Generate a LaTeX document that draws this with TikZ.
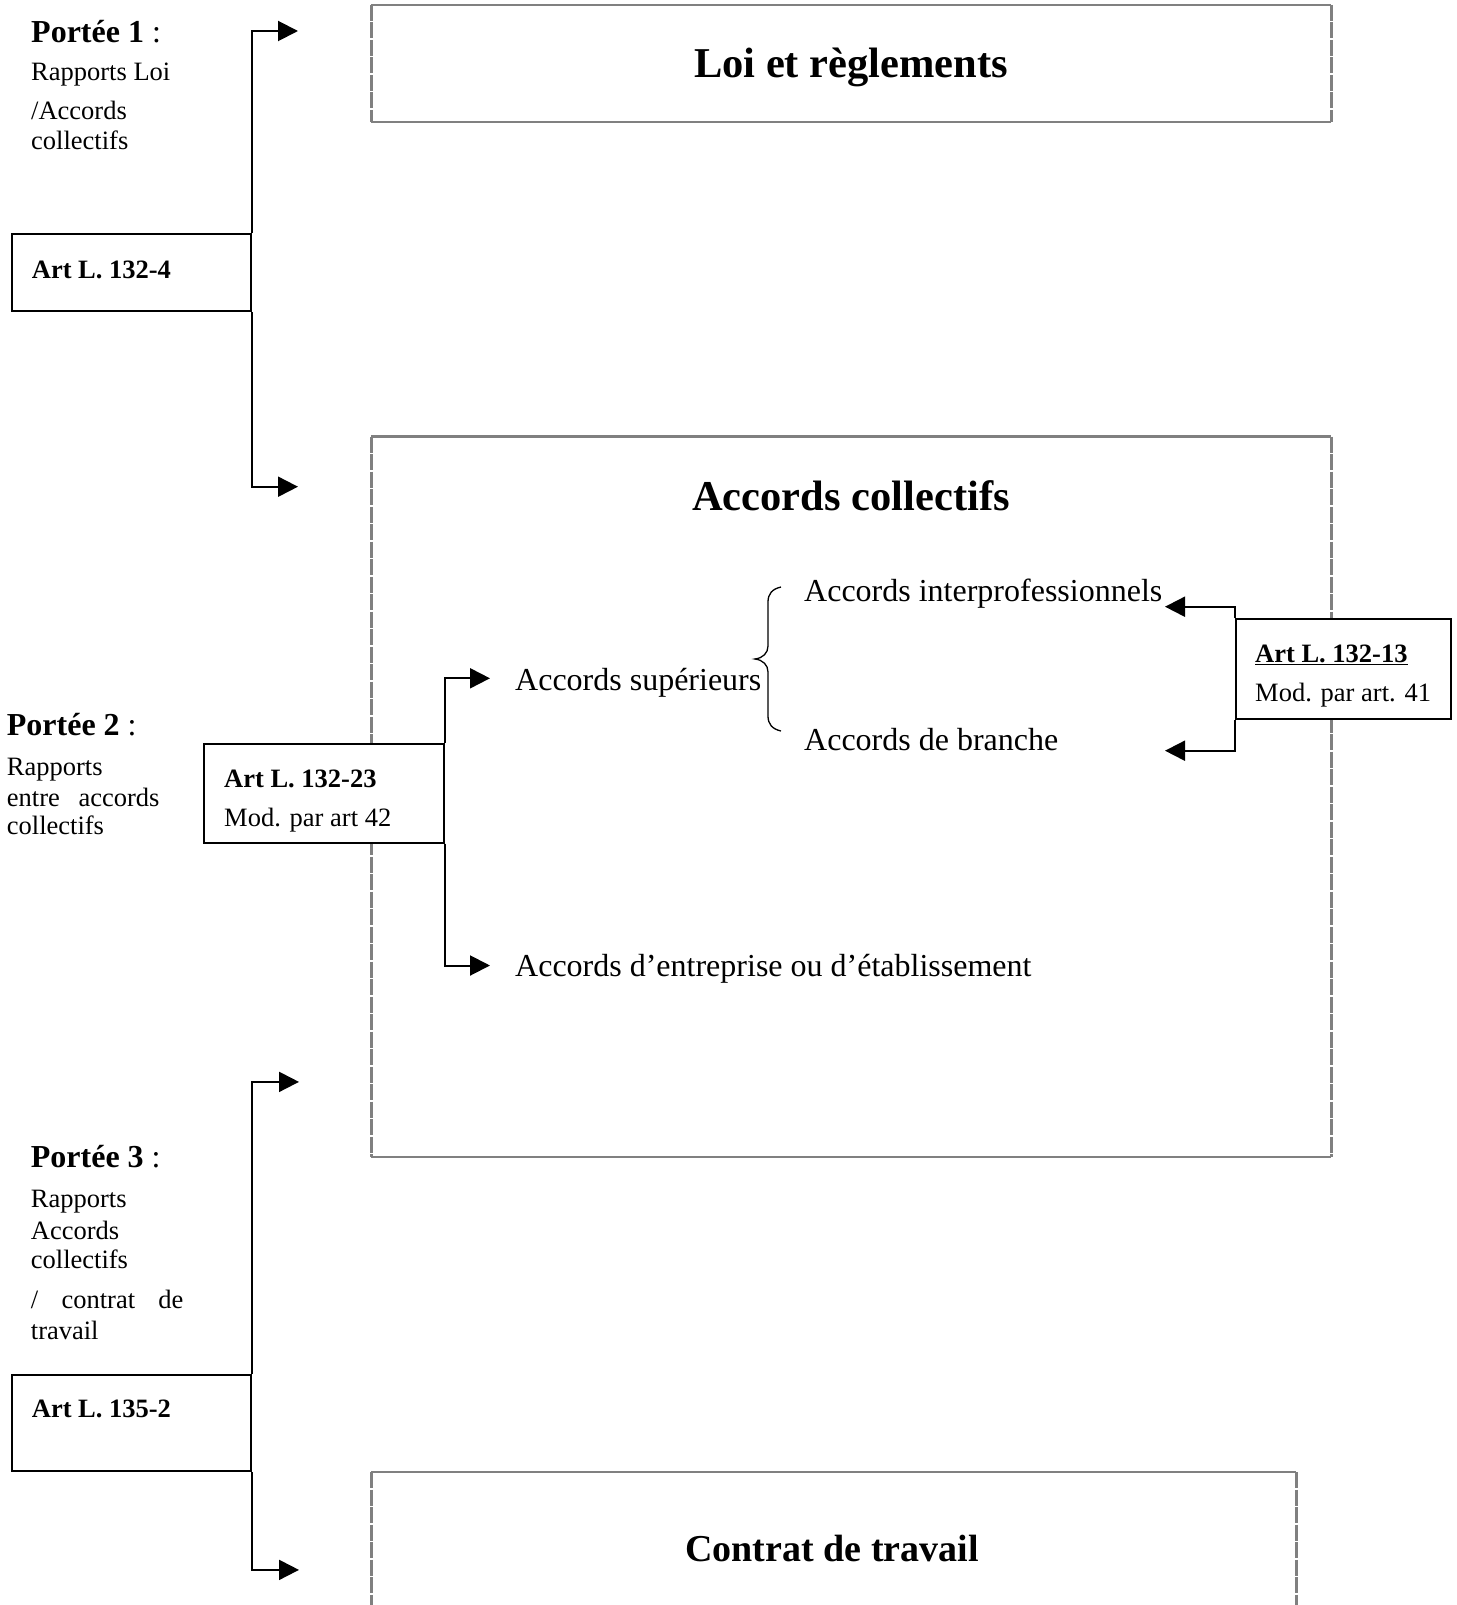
\documentclass[tikz,border=0pt]{standalone}
\usepackage{fontspec}
\setmainfont{Liberation Serif}
\usetikzlibrary{arrows.meta}
\definecolor{framegray}{HTML}{808080}
\begin{document}
\begin{tikzpicture}[x=1pt,y=-1pt,
  small/.style={inner sep=0pt, anchor=base west, font=\fontsize{26.5}{30}\selectfont},
  smallb/.style={small, font=\bfseries\fontsize{26.5}{30}\selectfont},
  big/.style={inner sep=0pt, anchor=base west, font=\fontsize{32}{36}\selectfont},
  title/.style={inner sep=0pt, anchor=base, font=\bfseries\fontsize{42.5}{48}\selectfont},
  artbox/.style={draw=black, fill=white, line width=2pt, inner sep=0pt, anchor=north west},
  frame/.style={draw=none, inner sep=0pt, anchor=north west},
  gedge/.style={draw=framegray, line width=2.6pt},
  gside/.style={gedge, line width=3pt, dash pattern=on 16pt off 1.5pt},
  conn/.style={line width=2pt},
  arr/.style={conn, -{Triangle[length=20pt,width=20pt]}},
  brc/.style={line width=1.3pt}
]
\useasboundingbox (0,0) rectangle (1456,1605);

% ---------- gray frames ----------
\node[frame, minimum width=960pt, minimum height=116.7pt] (loi) at (371,5) {};
\draw[gedge] (loi.north west) -- (loi.north east);
\draw[gedge] (loi.south west) -- (loi.south east);
\draw[gside] (loi.north west) -- (loi.south west);
\draw[gside] (loi.north east) -- (loi.south east);
\node[title] (loit) at (851,78) {Loi et règlements};

\node[frame, minimum width=960pt, minimum height=720pt] (acc) at (371,436.7) {};
\draw[gedge] (acc.north west) -- (acc.north east);
\draw[gedge] (acc.south west) -- (acc.south east);
\draw[gside] (acc.north west) -- (acc.south west);
\draw[gside] (acc.north east) -- (acc.south east);
\node[title] (acct) at (851,510) {Accords collectifs};

\node[frame, minimum width=925pt, minimum height=140pt] (ctr) at (371,1472) {};
\draw[gedge] (ctr.north west) -- (ctr.north east);
\draw[gside] (ctr.north west) -- (ctr.south west);
\draw[gside] (ctr.north east) -- (ctr.south east);
\node[title, font=\bfseries\fontsize{38}{44}\selectfont] (ctrt) at (832,1561) {Contrat de travail};

% ---------- Portee 1 ----------
\node[big] (p1) at (31,42.5) {\textbf{Portée 1} :};
\node[small] (p1a) at (31,81) {Rapports Loi};
\node[small] (p1b) at (31,120) {/Accords};
\node[small] (p1c) at (31,149.5) {collectifs};
\node[artbox, minimum width=239pt, minimum height=76.7pt] (a1) at (11,233.3) {};
\node[smallb] (a1t) at (31.7,279) {Art L. 132-4};
\coordinate (p1top) at (298,31);
\coordinate (p1bot) at (298,486.7);
\draw[arr] (a1.north east) |- (p1top);
\draw[arr] (a1.south east) |- (p1bot);

% ---------- Portee 2 ----------
\node[big] (p2) at (6.7,735.5) {\textbf{Portée 2} :};
\node[small] (p2a) at (6.7,775) {Rapports};
\node[small] (p2b) at (6.7,806) {\hbox to 152.6pt{entre\hfill accords}};
\node[small] (p2c) at (6.7,834) {collectifs};
\node[artbox, minimum width=240pt, minimum height=98.4pt] (a2) at (203.3,743.3) {};
\node[smallb] (a2t) at (224,787.5) {Art L. 132-23};
\node[small] (a2m) at (224,826) {Mod. par art 42};
\coordinate (supTip) at (490,678.3);
\coordinate (entTip) at (490,965.5);
\draw[arr] (a2.north east) |- (supTip);
\draw[arr] (a2.south east) |- (entTip);
\node[big] (sup) at (515,690) {Accords supérieurs};
\node[big] (ent) at (515,976.5) {Accords d’entreprise ou d’établissement};

% brace
\draw[brc] (781,587) .. controls (772,589) and (768,594) .. (768,602) -- (768,646)
  .. controls (768,653) and (763,658) .. (755,659)
  .. controls (763,660) and (768,665) .. (768,672) -- (768,716)
  .. controls (768,724) and (772,729) .. (781,731);
\node[big] (inter) at (804,601) {Accords interprofessionnels};
\node[big] (bran) at (804,750) {Accords de branche};

% right article box
\node[artbox, minimum width=215pt, minimum height=99.2pt] (a3) at (1235,618.3) {};
\node[smallb] (a3t) at (1255,662.5) {\underline{Art L. 132-13}};
\node[small] (a3m) at (1255,701) {Mod. par art. 41};
\coordinate (interTip) at (1165,606.7);
\coordinate (branTip) at (1165,750.7);
\draw[arr] (a3.north west) |- (interTip);
\draw[arr] (a3.south west) |- (branTip);

% ---------- Portee 3 ----------
\node[big] (p3) at (30.7,1167.8) {\textbf{Portée 3} :};
\node[small] (p3a) at (30.7,1207.7) {Rapports};
\node[small] (p3b) at (30.7,1239) {Accords};
\node[small] (p3c) at (30.7,1268.5) {collectifs};
\node[small] (p3d) at (30.7,1308.5) {\hbox to 152.6pt{/\hfill contrat\hfill de}};
\node[small] (p3e) at (30.7,1339.8) {travail};
\node[artbox, minimum width=239pt, minimum height=96.3pt] (a4) at (11,1373.9) {};
\node[smallb] (a4t) at (31.7,1417) {Art L. 135-2};
\coordinate (p3top) at (299,1081.9);
\coordinate (p3bot) at (299,1569.9);
\draw[arr] (a4.north east) |- (p3top);
\draw[arr] (a4.south east) |- (p3bot);
\end{tikzpicture}
\end{document}
